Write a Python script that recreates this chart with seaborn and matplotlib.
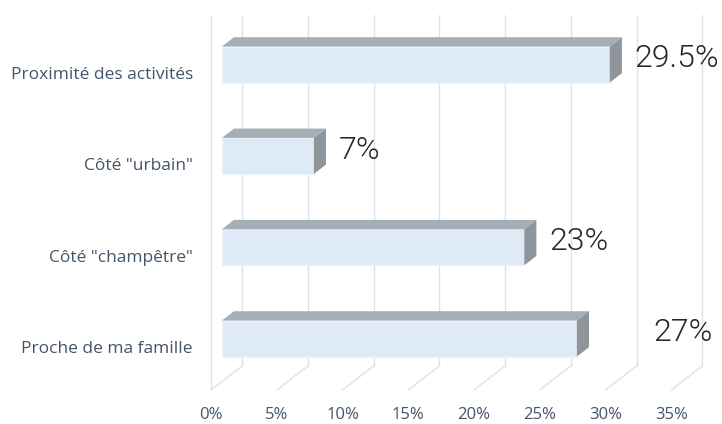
import matplotlib
matplotlib.use("Agg")
import matplotlib.pyplot as plt
import seaborn as sns
import pandas as pd
from matplotlib.patches import Polygon

# Daten
kategorien = ['Proximité des activités', 'Côté "urbain"', 'Côté "champêtre"', 'Proche de ma famille']
werte = [29.5, 7, 23, 27]
etiketten = ['29.5%', '7%', '23%', '27%']
x_ticks = [0, 5, 10, 15, 20, 25, 30, 35]
x_tick_labels = ['0%', '5%', '10%', '15%', '20%', '25%', '30%', '35%']

df = pd.DataFrame({'Kategorie': kategorien, 'Wert': werte})

sns.set_theme(style="white")
plt.rcParams['font.family'] = ['Open Sans', 'DejaVu Sans']

fig = plt.figure(figsize=(7.22, 4.24), dpi=100)
# Achse: linke Wand bei x=211px, Boden vorne bei y=390px, oben bei y=15px
ax = fig.add_axes([211 / 722, 34 / 424, 511 / 722, 375 / 424])

px_x = 13.15      # Pixel pro Prozent
px_y = 91.33      # Pixel pro Kategorie
DX = 31 / px_x    # Tiefe des 3D-Effekts in Datenkoordinaten
DY = 24 / px_y
f = 0.35          # Position der Balkenvorderseite in der Tiefe
g = 0.39          # Tiefe der Balken
ylo = 317 / px_y
yhi = -58 / px_y

# Balken
sns.barplot(data=df, x='Wert', y='Kategorie', orient='h', width=0.394,
            color='#DEEBF7', saturation=1, edgecolor='#EEF4FB', linewidth=0.8, ax=ax, zorder=3)

# seaborn setzt die Grenzen selbst, daher danach
ax.set_xlim(0, 511 / px_x)
ax.set_ylim(ylo, yhi)

grid_col = '#DCE2EA'
# Rueckwand: vertikale Gitterlinien
for t in x_ticks:
    ax.plot([t + DX, t + DX], [ylo - DY, yhi], color=grid_col, lw=1.0, zorder=0, clip_on=False)
    # Boden: diagonale Linien
    ax.plot([t, t + DX], [ylo, ylo - DY], color=grid_col, lw=1.0, zorder=0, clip_on=False)
# linke Wand
ax.plot([0, 0], [ylo, yhi], color=grid_col, lw=1.0, zorder=0, clip_on=False)

for p in ax.patches[:len(werte)]:
    p.set_x(p.get_x() + f * DX)
    p.set_y(p.get_y() - f * DY)
    x0 = p.get_x()
    x1 = x0 + p.get_width()
    yt = p.get_y()
    yb = yt + p.get_height()
    top = Polygon([(x0, yt), (x1, yt), (x1 + g * DX, yt - g * DY), (x0 + g * DX, yt - g * DY)],
                  closed=True, facecolor='#A6AEB5', edgecolor='none', zorder=3)
    side = Polygon([(x1, yt), (x1, yb), (x1 + g * DX, yb - g * DY), (x1 + g * DX, yt - g * DY)],
                   closed=True, facecolor='#8E969C', edgecolor='none', zorder=3)
    ax.add_patch(top)
    ax.add_patch(side)

# Wertbeschriftungen (27% ist in der Vorlage weiter nach rechts verschoben)
abstand_px = [13, 13, 13, 64]
for i, (w, txt) in enumerate(zip(werte, etiketten)):
    ax.text(w + (f + g) * DX + abstand_px[i] / px_x, i - (f + 0.6 * g) * DY, txt,
            ha='left', va='center', fontsize=23, color='#262626',
            family=['Roboto', 'DejaVu Sans'], fontweight=300, zorder=5)

ax.set_xticks(x_ticks)
ax.set_xticklabels(x_tick_labels)
ax.set_xlabel('')
ax.set_ylabel('')
ax.tick_params(axis='x', length=0, pad=12, labelsize=12, labelcolor='#44546A')
ax.tick_params(axis='y', length=0, pad=13, labelsize=12.5, labelcolor='#44546A')
for s in ax.spines.values():
    s.set_visible(False)
ax.set_facecolor('none')

fig.savefig("out.png", dpi=100)
